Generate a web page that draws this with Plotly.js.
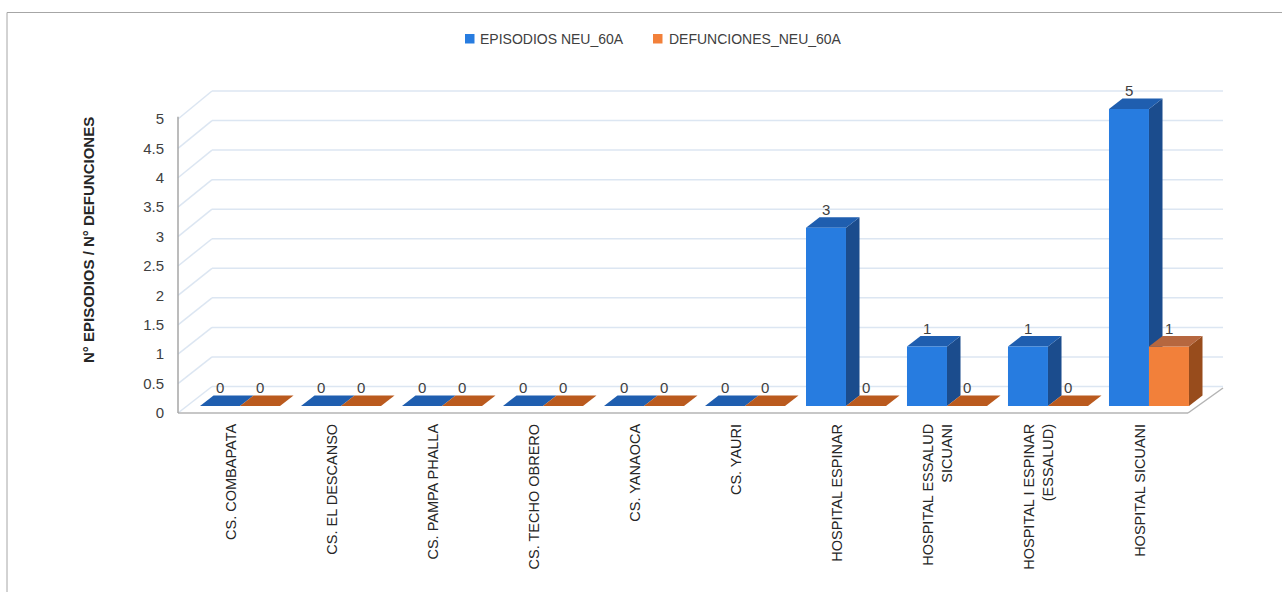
<!DOCTYPE html>
<html>
<head>
<meta charset="utf-8">
<script src="https://cdn.plot.ly/plotly-3.0.1.min.js"></script>
<style>
  html, body { margin: 0; padding: 0; background: #ffffff; }
  #chart { width: 1282px; height: 592px; }
</style>
</head>
<body>
<div id="chart"></div>
<script>
// Establishments (categories) and their tick labels
const categories = [
  'CS. COMBAPATA', 'CS. EL DESCANSO', 'CS. PAMPA PHALLA', 'CS. TECHO OBRERO',
  'CS. YANAOCA', 'CS. YAURI', 'HOSPITAL ESPINAR', 'HOSPITAL ESSALUD SICUANI',
  'HOSPITAL I ESPINAR (ESSALUD)', 'HOSPITAL SICUANI'
];
const tickLabels = [
  'CS. COMBAPATA', 'CS. EL DESCANSO', 'CS. PAMPA PHALLA', 'CS. TECHO OBRERO',
  'CS. YANAOCA', 'CS. YAURI', 'HOSPITAL ESPINAR', 'HOSPITAL ESSALUD<br>SICUANI',
  'HOSPITAL I ESPINAR<br>(ESSALUD)', 'HOSPITAL SICUANI'
];

// Series values
const seriesNames = ['EPISODIOS NEU_60A', 'DEFUNCIONES_NEU_60A'];
const episodios = [0, 0, 0, 0, 0, 0, 3, 1, 1, 5];
const defunciones = [0, 0, 0, 0, 0, 0, 0, 0, 0, 1];

// Value-axis ticks
const yTicks = [0, 0.5, 1, 1.5, 2, 2.5, 3, 3.5, 4, 4.5, 5];
const yTitle = 'N° EPISODIOS / N° DEFUNCIONES';

// ---- geometry of the pseudo-3D box (pixels) ----
const FONT = 'Liberation Sans, Arial, sans-serif';
const PL = 178, PR = 1222, PT = 85, PB = 413;     // plot area
const X_RANGE = [-0.614, 9.723];
const Y_RANGE = [-0.118, 5.404];                  // front faces of the columns
const Y2_RANGE = [0, 5.578];                      // front edge of the side wall
const BAR_W = 0.396;                              // column width (category units)
const DEPTH_X = 0.134, DEPTH_Y = 0.177;           // column depth offset (data units)
const WALL_X = 212;                               // back-left corner of the box
const FLOOR_RIGHT = 1188;

const px = x => (x - PL) / (PR - PL);
const py = y => (PB - y) / (PB - PT);
const edgePix = v => PB - v * (PB - PT) / (Y2_RANGE[1] - Y2_RANGE[0]);
const backPix = v => 386.5 - 59.1 * v;

const COLORS = {
  blue:   { front: '#277CE0', top: '#1F5EAF', side: '#1B4C8D' },
  orange: { front: '#F2803A', top: '#B6673F', topFlat: '#BA5A1E', side: '#984C1C' }
};

const shapes = [];
const annotations = [];

// outer frame
shapes.push({ type: 'rect', xref: 'paper', yref: 'paper',
  x0: px(7), x1: px(1300), y0: py(12.5), y1: py(610),
  line: { color: '#A6A6A6', width: 1 }, fillcolor: 'rgba(0,0,0,0)', layer: 'below' });

// back wall gridlines and side wall diagonals
yTicks.forEach(v => {
  shapes.push({ type: 'line', xref: 'paper', yref: 'paper',
    x0: px(WALL_X), x1: px(PR + 1), y0: py(backPix(v)), y1: py(backPix(v)),
    line: { color: '#DCE6F2', width: 1.5 }, layer: 'below' });
  shapes.push({ type: 'line', xref: 'paper', yref: 'paper',
    x0: px(PL), x1: px(WALL_X), y0: py(edgePix(v)), y1: py(backPix(v)),
    line: { color: '#DCE6F2', width: 1.5 }, layer: 'below' });
});

// floor edges
shapes.push({ type: 'line', xref: 'paper', yref: 'paper',
  x0: px(PL), x1: px(FLOOR_RIGHT), y0: py(PB), y1: py(PB),
  line: { color: '#B4B4B4', width: 1.5 }, layer: 'below' });
shapes.push({ type: 'line', xref: 'paper', yref: 'paper',
  x0: px(FLOOR_RIGHT), x1: px(PR + 1), y0: py(PB), y1: py(backPix(0) + 1.5),
  line: { color: '#B4B4B4', width: 1.5 }, layer: 'below' });

// vertical value axis line
shapes.push({ type: 'line', xref: 'paper', yref: 'y2',
  x0: 0, x1: 0, y0: 0, y1: 5.04,
  line: { color: '#A6A6A6', width: 1.5 }, layer: 'below' });

// top and side faces of each column, plus value labels
function faces(values, offset, pal, layer) {
  values.forEach((h, i) => {
    const a = i + offset, b = a + BAR_W;
    const top = `M${a},${h} L${b},${h} L${b + DEPTH_X},${h + DEPTH_Y} L${a + DEPTH_X},${h + DEPTH_Y} Z`;
    if (h > 0) {
      const side = `M${b},0 L${b},${h} L${b + DEPTH_X},${h + DEPTH_Y} L${b + DEPTH_X},${DEPTH_Y} Z`;
      shapes.push({ type: 'path', xref: 'x', yref: 'y', path: side,
        fillcolor: pal.side, line: { width: 0 }, layer: layer });
    }
    shapes.push({ type: 'path', xref: 'x', yref: 'y', path: top,
      fillcolor: (h === 0 && pal.topFlat) ? pal.topFlat : pal.top, line: { width: 0 }, layer: layer });
    annotations.push({ xref: 'x', yref: 'y', x: a + BAR_W / 2, y: h + DEPTH_Y,
      text: String(h), showarrow: false, yanchor: 'bottom', yshift: -3,
      font: { family: FONT, size: 15, color: '#404040' } });
  });
}
faces(episodios, -BAR_W, COLORS.blue, 'below');
faces(defunciones, 0, COLORS.orange, 'above');

// legend
[[465, 478, COLORS.blue.front, seriesNames[0]], [653, 667, COLORS.orange.front, seriesNames[1]]]
  .forEach(([sx, tx, col, name]) => {
    shapes.push({ type: 'rect', xref: 'paper', yref: 'paper',
      x0: px(sx), x1: px(sx + 9.5), y0: py(34), y1: py(43.5),
      fillcolor: col, line: { width: 0 } });
    annotations.push({ xref: 'paper', yref: 'paper', x: px(tx), y: py(39),
      xanchor: 'left', yanchor: 'middle', showarrow: false, text: name,
      font: { family: FONT, size: 14, color: '#404040' } });
  });

// value-axis title
annotations.push({ xref: 'paper', yref: 'paper', x: px(88), y: py(240),
  xanchor: 'center', yanchor: 'middle', textangle: -90, showarrow: false, text: yTitle,
  font: { family: FONT, size: 15, color: '#262626', weight: 'bold' } });

const idx = categories.map((_, i) => i);

const traces = [
  { type: 'bar', name: seriesNames[0], x: idx, y: episodios, width: BAR_W, offset: -BAR_W,
    marker: { color: COLORS.blue.front, line: { width: 0 } }, hoverinfo: 'skip', showlegend: false },
  { type: 'bar', name: seriesNames[1], x: idx, y: defunciones, width: BAR_W, offset: 0,
    marker: { color: COLORS.orange.front, line: { width: 0 } }, hoverinfo: 'skip', showlegend: false }
];

const layout = {
  width: 1282, height: 592, autosize: false,
  margin: { l: PL, r: 1282 - PR, t: PT, b: 592 - PB, pad: 0 },
  paper_bgcolor: '#ffffff', plot_bgcolor: 'rgba(0,0,0,0)',
  showlegend: false,
  barmode: 'overlay',
  font: { family: FONT, color: '#404040' },
  xaxis: {
    range: X_RANGE, tickmode: 'array', tickvals: idx, ticktext: tickLabels,
    tickangle: -90, ticks: '', showgrid: false, zeroline: false, showline: false,
    ticklabelstandoff: 7, ticklabelshift: -9,
    tickfont: { family: FONT, size: 14.5, color: '#262626' }, fixedrange: true
  },
  yaxis: { range: Y_RANGE, visible: false, showgrid: false, zeroline: false, fixedrange: true },
  yaxis2: {
    overlaying: 'y', side: 'left', range: Y2_RANGE,
    tickmode: 'array', tickvals: yTicks, ticktext: yTicks.map(String),
    ticks: '', showgrid: false, zeroline: false, showline: false,
    ticklabelstandoff: 13,
    tickfont: { family: FONT, size: 15, color: '#404040' },
    fixedrange: true
  },
  shapes: shapes,
  annotations: annotations
};

// invisible trace to activate the secondary value axis
traces.push({ type: 'scatter', x: [], y: [], yaxis: 'y2', showlegend: false, hoverinfo: 'skip' });

Plotly.newPlot('chart', traces, layout, { staticPlot: true, displayModeBar: false });
</script>
</body>
</html>
